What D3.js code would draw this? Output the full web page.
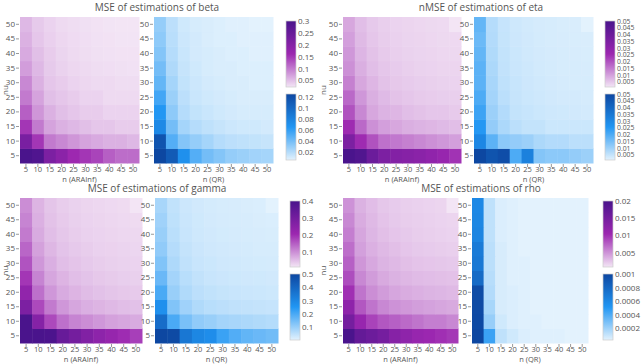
<!DOCTYPE html>
<html>
<head>
<meta charset="utf-8">
<script src="https://cdn.jsdelivr.net/npm/d3@7"></script>
<style>
  body { margin: 0; background: #fff; }
  text { font-family: "Open Sans", sans-serif; fill: #555; }
</style>
</head>
<body>
<script>
// grid values
const nVals = [5, 10, 15, 20, 25, 30, 35, 40, 45, 50]
const nuVals = [5, 10, 15, 20, 25, 30, 35, 40, 45, 50]

// rows go nu = 5 ... 50, columns n = 5 ... 50
const betaARA = [
  [0.300, 0.290, 0.215, 0.190, 0.160, 0.150, 0.140, 0.120, 0.110, 0.110],
  [0.220, 0.150, 0.100, 0.090, 0.080, 0.070, 0.065, 0.060, 0.060, 0.055],
  [0.150, 0.100, 0.070, 0.060, 0.055, 0.050, 0.045, 0.045, 0.040, 0.040],
  [0.120, 0.080, 0.060, 0.050, 0.045, 0.040, 0.040, 0.035, 0.035, 0.035],
  [0.100, 0.070, 0.050, 0.045, 0.040, 0.035, 0.035, 0.030, 0.030, 0.030],
  [0.090, 0.060, 0.045, 0.040, 0.035, 0.032, 0.030, 0.030, 0.028, 0.028],
  [0.075, 0.055, 0.042, 0.036, 0.032, 0.030, 0.028, 0.027, 0.026, 0.025],
  [0.065, 0.050, 0.040, 0.034, 0.030, 0.028, 0.026, 0.025, 0.024, 0.024],
  [0.060, 0.045, 0.037, 0.032, 0.029, 0.027, 0.025, 0.024, 0.023, 0.023],
  [0.055, 0.042, 0.035, 0.030, 0.028, 0.026, 0.024, 0.023, 0.022, 0.022]
]
const betaQR = [
  [0.125, 0.110, 0.070, 0.050, 0.040, 0.035, 0.030, 0.028, 0.026, 0.025],
  [0.115, 0.050, 0.035, 0.030, 0.025, 0.020, 0.018, 0.017, 0.016, 0.015],
  [0.075, 0.040, 0.025, 0.020, 0.017, 0.015, 0.013, 0.012, 0.012, 0.011],
  [0.065, 0.032, 0.020, 0.016, 0.014, 0.012, 0.011, 0.010, 0.010, 0.010],
  [0.055, 0.028, 0.018, 0.014, 0.012, 0.011, 0.010, 0.009, 0.009, 0.009],
  [0.045, 0.025, 0.016, 0.013, 0.011, 0.010, 0.009, 0.009, 0.008, 0.008],
  [0.040, 0.022, 0.015, 0.012, 0.010, 0.009, 0.009, 0.008, 0.008, 0.008],
  [0.035, 0.020, 0.014, 0.011, 0.010, 0.009, 0.008, 0.008, 0.007, 0.007],
  [0.032, 0.019, 0.013, 0.011, 0.009, 0.008, 0.008, 0.007, 0.007, 0.007],
  [0.030, 0.018, 0.012, 0.010, 0.009, 0.008, 0.007, 0.007, 0.006, 0.006]
]
const etaARA = [
  [0.050, 0.048, 0.040, 0.035, 0.033, 0.032, 0.031, 0.029, 0.027, 0.024],
  [0.035, 0.025, 0.020, 0.016, 0.015, 0.014, 0.013, 0.012, 0.011, 0.010],
  [0.025, 0.017, 0.012, 0.010, 0.009, 0.008, 0.0075, 0.007, 0.0065, 0.006],
  [0.020, 0.013, 0.009, 0.0075, 0.007, 0.006, 0.0055, 0.005, 0.005, 0.0045],
  [0.017, 0.011, 0.008, 0.0065, 0.0055, 0.005, 0.0045, 0.0042, 0.004, 0.0038],
  [0.014, 0.009, 0.007, 0.0055, 0.0048, 0.0043, 0.004, 0.0037, 0.0035, 0.0033],
  [0.012, 0.008, 0.006, 0.005, 0.0043, 0.0038, 0.0035, 0.0033, 0.0031, 0.003],
  [0.011, 0.0072, 0.0055, 0.0045, 0.0039, 0.0035, 0.0032, 0.003, 0.0028, 0.0027],
  [0.010, 0.0066, 0.005, 0.0041, 0.0036, 0.0032, 0.003, 0.0028, 0.0026, 0.0025],
  [0.009, 0.006, 0.0046, 0.0038, 0.0033, 0.003, 0.0028, 0.0026, 0.0024, 0.001]
]
const etaQR = [
  [0.050, 0.046, 0.048, 0.020, 0.032, 0.013, 0.012, 0.012, 0.011, 0.010],
  [0.030, 0.018, 0.012, 0.011, 0.010, 0.008, 0.007, 0.007, 0.006, 0.006],
  [0.025, 0.011, 0.008, 0.006, 0.005, 0.005, 0.004, 0.004, 0.004, 0.004],
  [0.022, 0.010, 0.007, 0.005, 0.0045, 0.004, 0.0037, 0.0035, 0.0033, 0.003],
  [0.020, 0.009, 0.006, 0.0047, 0.004, 0.0036, 0.0033, 0.003, 0.003, 0.0028],
  [0.018, 0.0085, 0.0055, 0.0045, 0.0038, 0.0034, 0.003, 0.0028, 0.0027, 0.0026],
  [0.018, 0.008, 0.0052, 0.0042, 0.0036, 0.0032, 0.0029, 0.0027, 0.0026, 0.0025],
  [0.017, 0.0075, 0.005, 0.004, 0.0034, 0.003, 0.0028, 0.0026, 0.0025, 0.0024],
  [0.016, 0.007, 0.0048, 0.0038, 0.0033, 0.0029, 0.0027, 0.0025, 0.0024, 0.0023],
  [0.017, 0.0068, 0.0046, 0.0037, 0.0032, 0.0028, 0.0026, 0.0024, 0.0023, 0.001]
]
const gammaARA = [
  [0.400, 0.400, 0.395, 0.330, 0.300, 0.270, 0.240, 0.220, 0.200, 0.180],
  [0.400, 0.260, 0.170, 0.130, 0.110, 0.100, 0.090, 0.080, 0.075, 0.070],
  [0.280, 0.170, 0.120, 0.090, 0.075, 0.065, 0.060, 0.055, 0.050, 0.047],
  [0.230, 0.130, 0.090, 0.070, 0.060, 0.052, 0.047, 0.043, 0.040, 0.038],
  [0.190, 0.110, 0.075, 0.060, 0.050, 0.045, 0.040, 0.037, 0.034, 0.032],
  [0.160, 0.090, 0.065, 0.050, 0.044, 0.039, 0.035, 0.032, 0.030, 0.028],
  [0.140, 0.080, 0.057, 0.045, 0.039, 0.035, 0.031, 0.029, 0.027, 0.025],
  [0.120, 0.070, 0.050, 0.041, 0.035, 0.031, 0.028, 0.026, 0.024, 0.023],
  [0.110, 0.064, 0.046, 0.038, 0.032, 0.028, 0.026, 0.024, 0.022, 0.020],
  [0.100, 0.060, 0.043, 0.035, 0.030, 0.026, 0.024, 0.022, 0.020, 0.010]
]
const gammaQR = [
  [0.500, 0.490, 0.350, 0.300, 0.280, 0.220, 0.190, 0.170, 0.160, 0.150],
  [0.380, 0.200, 0.140, 0.110, 0.100, 0.085, 0.080, 0.075, 0.070, 0.065],
  [0.270, 0.130, 0.090, 0.070, 0.060, 0.055, 0.050, 0.047, 0.045, 0.042],
  [0.200, 0.100, 0.070, 0.055, 0.048, 0.043, 0.040, 0.037, 0.035, 0.033],
  [0.160, 0.085, 0.060, 0.047, 0.040, 0.036, 0.033, 0.031, 0.030, 0.028],
  [0.130, 0.072, 0.050, 0.040, 0.035, 0.031, 0.029, 0.027, 0.025, 0.024],
  [0.110, 0.064, 0.045, 0.036, 0.031, 0.028, 0.026, 0.024, 0.022, 0.021],
  [0.100, 0.057, 0.040, 0.032, 0.028, 0.025, 0.023, 0.021, 0.020, 0.019],
  [0.090, 0.052, 0.037, 0.030, 0.026, 0.023, 0.021, 0.020, 0.018, 0.017],
  [0.080, 0.048, 0.034, 0.028, 0.024, 0.021, 0.020, 0.018, 0.017, 0.005]
]
const rhoARA = [
  [0.0200, 0.0170, 0.0160, 0.0150, 0.0130, 0.0120, 0.0110, 0.0105, 0.0100, 0.0095],
  [0.0150, 0.0110, 0.0090, 0.0080, 0.0075, 0.0070, 0.0065, 0.0060, 0.0060, 0.0055],
  [0.0120, 0.0080, 0.0065, 0.0055, 0.0050, 0.0047, 0.0044, 0.0042, 0.0040, 0.0038],
  [0.0100, 0.0065, 0.0052, 0.0045, 0.0040, 0.0037, 0.0035, 0.0033, 0.0032, 0.0030],
  [0.0085, 0.0055, 0.0045, 0.0038, 0.0034, 0.0031, 0.0029, 0.0028, 0.0027, 0.0026],
  [0.0075, 0.0048, 0.0039, 0.0033, 0.0030, 0.0027, 0.0025, 0.0024, 0.0023, 0.0022],
  [0.0068, 0.0043, 0.0035, 0.0030, 0.0027, 0.0024, 0.0022, 0.0021, 0.0020, 0.0019],
  [0.0060, 0.0040, 0.0032, 0.0027, 0.0024, 0.0022, 0.0020, 0.0019, 0.0018, 0.0017],
  [0.0055, 0.0037, 0.0030, 0.0025, 0.0022, 0.0020, 0.0019, 0.0018, 0.0017, 0.0016],
  [0.0050, 0.0034, 0.0028, 0.0023, 0.0021, 0.0019, 0.0018, 0.0017, 0.0016, 0.0008]
]
const rhoQR = [
  [0.00100, 0.00045, 0.00012, 0.00008, 0.00005, 0.00004, 0.00004, 0.00004, 0.00003, 0.00003],
  [0.00099, 0.00022, 0.00008, 0.00005, 0.00004, 0.00004, 0.00003, 0.00003, 0.00003, 0.00003],
  [0.00098, 0.00018, 0.00006, 0.00005, 0.00004, 0.00003, 0.00003, 0.00003, 0.00003, 0.00003],
  [0.00097, 0.00015, 0.00006, 0.00005, 0.00004, 0.00003, 0.00003, 0.00003, 0.00003, 0.00003],
  [0.00078, 0.00014, 0.00006, 0.00004, 0.00004, 0.00003, 0.00003, 0.00003, 0.00003, 0.00003],
  [0.00070, 0.00013, 0.00006, 0.00004, 0.00004, 0.00003, 0.00003, 0.00003, 0.00003, 0.00003],
  [0.00068, 0.00013, 0.00006, 0.00004, 0.00003, 0.00003, 0.00003, 0.00003, 0.00003, 0.00003],
  [0.00062, 0.00012, 0.00005, 0.00004, 0.00003, 0.00003, 0.00003, 0.00003, 0.00003, 0.00003],
  [0.00061, 0.00012, 0.00005, 0.00004, 0.00003, 0.00003, 0.00003, 0.00003, 0.00003, 0.00003],
  [0.00060, 0.00012, 0.00005, 0.00004, 0.00003, 0.00003, 0.00003, 0.00003, 0.00003, 0.00003]
]

const titles = ["MSE of estimations of beta", "nMSE of estimations of eta", "MSE of estimations of gamma", "MSE of estimations of rho"]
const cbTicksARA = [
  [0.05, 0.1, 0.15, 0.2, 0.25, 0.3],
  [0.005, 0.01, 0.015, 0.02, 0.025, 0.03, 0.035, 0.04, 0.045, 0.05],
  [0.1, 0.2, 0.3, 0.4],
  [0.005, 0.01, 0.015, 0.02]
]
const cbTicksQR = [
  [0.02, 0.04, 0.06, 0.08, 0.1, 0.12],
  [0.005, 0.01, 0.015, 0.02, 0.025, 0.03, 0.035, 0.04, 0.045, 0.05],
  [0.1, 0.2, 0.3, 0.4, 0.5],
  [0.0002, 0.0004, 0.0006, 0.0008, 0.001]
]

const purpleColors = ["#f3e5f5", "#9c27b0", "#4a148c"]
const blueColors = ["#e3f2fd", "#2196f3", "#0d47a1"]

// layout boxes (pixels) for the four panels
const panels = [
  { a: [20, 139], b: [154, 273], y: [17, 163], cb: [286, 296], cbA: [21, 87], cbB: [94, 160], tx: 157, ty: 11, nuX: 8, xt: 182, cbFont: 8 },
  { a: [343, 461], b: [474, 593], y: [17, 163], cb: [605, 615], cbA: [21, 87], cbB: [94, 160], tx: 481, ty: 11, nuX: 326, xt: 182, cbFont: 6.8 },
  { a: [20, 142], b: [155, 278], y: [198, 343], cb: [290, 300], cbA: [201, 267], cbB: [274, 340], tx: 157, ty: 192, nuX: 8, xt: 362, cbFont: 8 },
  { a: [343, 458], b: [472, 588], y: [198, 343], cb: [603, 613], cbA: [201, 267], cbB: [274, 340], tx: 481, ty: 192, nuX: 326, xt: 362, cbFont: 8 }
]
const dataARA = [betaARA, etaARA, gammaARA, rhoARA]
const dataQR = [betaQR, etaQR, gammaQR, rhoQR]

const svg = d3.select("body").append("svg")
  .attr("width", 642).attr("height", 364)
const defs = svg.append("defs")

const drawHeat = (g, z, xr, yr, colors, label, ext) => {
  const x = d3.scaleBand().domain(nVals).range(xr)
  const y = d3.scaleBand().domain(nuVals).range([yr[1], yr[0]])
  const color = d3.scaleLinear()
    .domain([ext[0], (ext[0] + ext[1]) / 2, ext[1]])
    .range(colors).interpolate(d3.interpolateRgb)
  const cells = []
  z.forEach((row, i) => row.forEach((v, j) => cells.push({ n: nVals[j], nu: nuVals[i], v: v })))
  g.append("g").selectAll("rect").data(cells).enter().append("rect")
    .attr("x", d => x(d.n)).attr("y", d => y(d.nu))
    .attr("width", x.bandwidth() + 0.5).attr("height", y.bandwidth() + 0.5)
    .attr("fill", d => color(d.v))

  const ax = g.append("g").attr("transform", "translate(0," + (yr[1] + 1) + ")")
    .call(d3.axisBottom(x).tickSize(3).tickPadding(0))
  const ay = g.append("g").attr("transform", "translate(" + (xr[0] - 1) + ",0)")
    .call(d3.axisLeft(y).tickSize(3).tickPadding(1))
  ;[ax, ay].forEach(a => {
    a.select(".domain").remove()
    a.selectAll("line").attr("stroke", "#999")
    a.selectAll("text").attr("fill", "#555")
  })
  ax.selectAll("text").style("font-size", "7.5px")
  ay.selectAll("text").style("font-size", "8px")
  g.append("text")
    .attr("x", (xr[0] + xr[1]) / 2).attr("y", label.y)
    .attr("text-anchor", "middle").style("font-size", "7.5px")
    .text(label.t)
}

const drawBar = (g, id, colors, ext, ticks, xr, yr, fs) => {
  const grad = defs.append("linearGradient").attr("id", id)
    .attr("x1", 0).attr("y1", 1).attr("x2", 0).attr("y2", 0)
  colors.forEach((c, i) => grad.append("stop").attr("offset", i / (colors.length - 1)).attr("stop-color", c))
  g.append("rect")
    .attr("x", xr[0]).attr("y", yr[0])
    .attr("width", xr[1] - xr[0]).attr("height", yr[1] - yr[0])
    .attr("fill", "url(#" + id + ")")
    .attr("stroke", "#ccc").attr("stroke-width", 0.7)
  const s = d3.scaleLinear().domain(ext).range([yr[1], yr[0]])
  const a = g.append("g").attr("transform", "translate(" + xr[1] + ",0)")
    .call(d3.axisRight(s).tickValues(ticks).tickSize(0).tickPadding(2).tickFormat(d3.format("~g")))
  a.select(".domain").remove()
  a.selectAll("text").style("font-size", fs + "px").attr("fill", "#555")
}

panels.forEach((p, k) => {
  const g = svg.append("g")
  const extA = d3.extent(dataARA[k].flat())
  const extB = d3.extent(dataQR[k].flat())
  drawHeat(g, dataARA[k], p.a, p.y, purpleColors, { t: "n (ARAInf)", y: p.xt }, extA)
  drawHeat(g, dataQR[k], p.b, p.y, blueColors, { t: "n (QR)", y: p.xt }, extB)
  drawBar(g, "cbA" + k, purpleColors, extA, cbTicksARA[k], p.cb, p.cbA, p.cbFont)
  drawBar(g, "cbB" + k, blueColors, extB, cbTicksQR[k], p.cb, p.cbB, p.cbFont)

  g.append("text")
    .attr("x", p.tx).attr("y", p.ty)
    .attr("text-anchor", "middle")
    .style("font-size", "10px").attr("fill", "#444")
    .text(titles[k])
  g.append("text")
    .attr("transform", "translate(" + p.nuX + "," + ((p.y[0] + p.y[1]) / 2) + ") rotate(-90)")
    .attr("text-anchor", "middle").style("font-size", "8px")
    .text("nu")
})
</script>
</body>
</html>
